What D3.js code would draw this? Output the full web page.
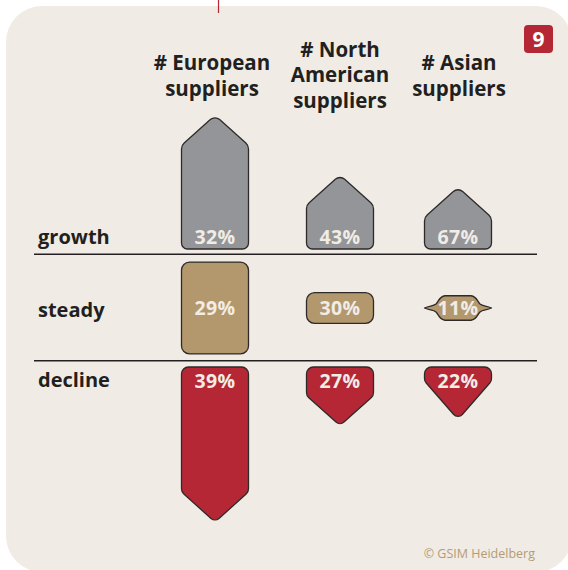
<!DOCTYPE html>
<html>
<head>
<meta charset="utf-8">
<script src="https://cdn.jsdelivr.net/npm/d3@7"></script>
<style>
  html, body { margin: 0; padding: 0; background: #ffffff; }
  svg { display: block; }
  text { font-family: "Open Sans", "Noto Sans", sans-serif; }
</style>
</head>
<body>
<svg id="chart" width="568" height="570"></svg>
<script>
// ---------------- data ----------------
const columns = ["European", "North American", "Asian"];
const headerLines = [["# European", "suppliers"], ["# North", "American", "suppliers"], ["# Asian", "suppliers"]];
const rows = ["growth", "steady", "decline"];
// percentage labels per row (columns in order above)
const growthPct  = [32, 43, 67];
const steadyPct  = [29, 30, 11];
const declinePct = [39, 27, 22];
// relative magnitude of each shape (index, largest = 100)
const growthSize  = [86, 47, 39];
const steadySize  = [60, 20, 16];
const declineSize = [100, 37, 33];
const badgeLabel = "9";
const credit = "© GSIM Heidelberg";

// ---------------- setup ----------------
const svg = d3.select("#chart");
const colours = { card: "#f0ece5", ink: "#231f20", grey: "#939598", tan: "#b3986e", red: "#b52735", label: "#f1ece5", credit: "#b59b72" };

const table = rows.map((r, i) => ({
  row: r,
  pct: [growthPct, steadyPct, declinePct][i],
  size: [growthSize, steadySize, declineSize][i]
}));

const x = d3.scaleOrdinal().domain(columns).range([215, 340, 458]);
const len = d3.scaleLinear().domain([0, 100]).range([0, 153]);
const shapeW = 67;

// card
svg.append("rect").attr("x", 6).attr("y", 6).attr("width", 566).attr("height", 566)
  .attr("rx", 36).attr("fill", colours.card);
// red marker at top
svg.append("line").attr("x1", 218.5).attr("x2", 218.5).attr("y1", 0).attr("y2", 13)
  .attr("stroke", colours.red).attr("stroke-width", 1.2);

// badge
svg.append("rect").attr("x", 524).attr("y", 25).attr("width", 29).attr("height", 28)
  .attr("rx", 4).attr("fill", colours.red);
svg.append("text").attr("x", 538.5).attr("y", 47).attr("text-anchor", "middle")
  .attr("font-size", 21).attr("font-weight", 700).attr("fill", "#ffffff").text(badgeLabel);

// headers
const headerBase = [70, 56.5, 70];
columns.forEach((c, i) => {
  const t = svg.append("text").attr("text-anchor", "middle").attr("font-size", 20.5)
    .attr("font-weight", 700).attr("fill", colours.ink);
  headerLines[i].forEach((ln, j) => {
    t.append("tspan").attr("x", x(c) - (i === 0 ? 3 : i === 2 ? -1 : 0))
      .attr("y", headerBase[i] + j * 25.5).text(ln);
  });
});

// row labels
const rowLabelY = { growth: 244, steady: 316.5, decline: 387 };
rows.forEach(r => {
  svg.append("text").attr("x", 38).attr("y", rowLabelY[r]).attr("font-size", 20)
    .attr("font-weight", 700).attr("fill", colours.ink).text(r);
});

// separator lines
[254.3, 360.7].forEach(y => {
  svg.append("line").attr("x1", 34).attr("x2", 537).attr("y1", y).attr("y2", y)
    .attr("stroke", colours.ink).attr("stroke-width", 1.5);
});

// -------------- shape helpers --------------
function roundedPoly(pts, radii) {
  const p = d3.path();
  const n = pts.length;
  const mid = (a, b) => [(a[0] + b[0]) / 2, (a[1] + b[1]) / 2];
  const start = mid(pts[n - 1], pts[0]);
  p.moveTo(start[0], start[1]);
  for (let i = 0; i < n; i++) {
    const cur = pts[i], nxt = pts[(i + 1) % n];
    const m = mid(cur, nxt);
    p.arcTo(cur[0], cur[1], m[0], m[1], radii[i]);
  }
  p.closePath();
  return p.toString();
}

const growthBase = 249, steadyMid = 308, declineTop = 367;
const headFor = h => (h >= 54 ? 30 : h - 12);

function upArrow(cx, h) {
  const x0 = cx - shapeW / 2, x1 = cx + shapeW / 2, yb = growthBase, yt = yb - h - 2;
  const ys = yt + 30;
  return roundedPoly([[x0, yb], [x0, ys], [cx, yt], [x1, ys], [x1, yb]], [6, 8, 7, 8, 6]);
}
function downArrow(cx, h) {
  const x0 = cx - shapeW / 2, x1 = cx + shapeW / 2, yt = declineTop, ytip = yt + h + 2;
  const ys = ytip - headFor(h);
  return roundedPoly([[x0, yt], [x1, yt], [x1, ys], [cx, ytip], [x0, ys]], [7, 7, 7, 6, 7]);
}
function steadyShape(cx, h) {
  const x0 = cx - shapeW / 2, x1 = cx + shapeW / 2;
  const y0 = steadyMid - h / 2, y1 = steadyMid + h / 2;
  if (h >= 28) {
    return roundedPoly([[x0, y0], [x1, y0], [x1, y1], [x0, y1]], [8, 8, 8, 8]);
  }
  // squeezed shape: narrow body with thin side wings
  const bx0 = cx - 19, bx1 = cx + 19, cy = steadyMid;
  const p = d3.path();
  p.moveTo(x0, cy);
  p.bezierCurveTo(x0 + 5, cy - 2.5, bx0 - 6, cy - 1.5, bx0 - 3, cy - 4);
  p.bezierCurveTo(bx0, cy - 7, bx0, y0 + 1, bx0 + 6, y0);
  p.lineTo(bx1 - 6, y0);
  p.bezierCurveTo(bx1, y0 + 1, bx1, cy - 7, bx1 + 3, cy - 4);
  p.bezierCurveTo(bx1 + 6, cy - 1.5, x1 - 5, cy - 2.5, x1, cy);
  p.bezierCurveTo(x1 - 5, cy + 2.5, bx1 + 6, cy + 1.5, bx1 + 3, cy + 4);
  p.bezierCurveTo(bx1, cy + 7, bx1, y1 - 1, bx1 - 6, y1);
  p.lineTo(bx0 + 6, y1);
  p.bezierCurveTo(bx0, y1 - 1, bx0, cy + 7, bx0 - 3, cy + 4);
  p.bezierCurveTo(bx0 - 6, cy + 1.5, x0 + 5, cy + 2.5, x0, cy);
  p.closePath();
  return p.toString();
}

const rowSpec = {
  growth:  { fill: colours.grey, path: upArrow,     labelY: () => growthBase - 5.5 },
  steady:  { fill: colours.tan,  path: steadyShape, labelY: () => steadyMid + 7 },
  decline: { fill: colours.red,  path: downArrow,   labelY: () => declineTop + 20.5 }
};

table.forEach(d => {
  const spec = rowSpec[d.row];
  const g = svg.append("g").attr("class", "row-" + d.row);
  const items = columns.map((c, i) => ({ col: c, pct: d.pct[i], size: d.size[i] }));
  g.selectAll("path").data(items).join("path")
    .attr("d", e => spec.path(x(e.col), len(e.size)))
    .attr("fill", spec.fill)
    .attr("stroke", "#2e2a2a").attr("stroke-width", 1.3).attr("stroke-linejoin", "round");
  g.selectAll("text").data(items).join("text")
    .attr("x", e => x(e.col)).attr("y", spec.labelY)
    .attr("text-anchor", "middle").attr("font-size", 19.5).attr("font-weight", 700)
    .attr("letter-spacing", 0.3)
    .attr("fill", colours.label).text(e => e.pct + "%");
});

// credit
svg.append("text").attr("x", 535).attr("y", 558).attr("text-anchor", "end")
  .attr("font-size", 12.5).attr("fill", colours.credit).text(credit);
</script>
</body>
</html>
